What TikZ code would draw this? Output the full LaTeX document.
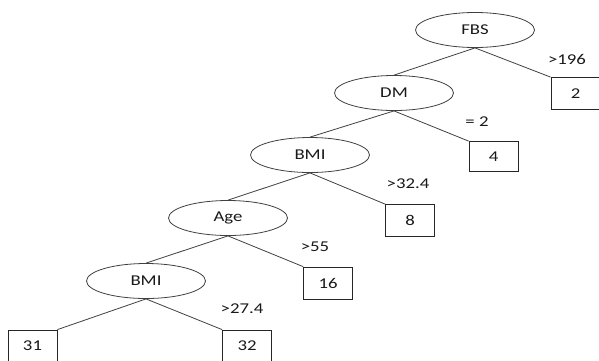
\documentclass[tikz,border=0pt]{standalone}
\usepackage{fontspec}
\setmainfont{Carlito}[FakeStretch=1.25]
\usetikzlibrary{shapes.geometric}
\tikzset{
  every node/.style={font=\fontsize{15}{18}\selectfont, text=black!90},
  split/.style={ellipse, draw=black!75, line width=0.8pt, inner sep=0pt, minimum width=119pt, minimum height=35pt},
  leaf/.style={rectangle, draw=black!85, line width=0.8pt, inner sep=0pt, minimum width=49pt, minimum height=32pt},
  edge/.style={draw=black!75, line width=0.8pt},
  cond/.style={inner sep=0pt}
}
\begin{document}
\begin{tikzpicture}[x=1pt,y=-1pt]
\useasboundingbox (0,0) rectangle (599,360);
\clip (0,0) rectangle (599,360);
% splits
\node[split] (fbs) at (475,30) {FBS};
\node[split] (dm) at (394,93) {DM};
\node[split] (bmi1) at (310,155) {BMI};
\node[split] (age) at (228,218) {Age};
\node[split] (bmi2) at (146,281) {BMI};
% leaves
\node[leaf] (l2) at (575.5,93.5) {2};
\node[leaf, minimum height=30pt] (l4) at (493.5,156.5) {4};
\node[leaf] (l8) at (410,220.5) {8};
\node[leaf] (l16) at (328,283) {16};
\node[leaf] (l31) at (32.5,346) {31};
\node[leaf] (l32) at (247,346) {32};
% edges
\path[edge] (fbs.south) -- (dm.north);
\path[edge] (fbs.south) -- (l2.north west);
\path[edge] (dm.south) -- (bmi1.north);
\path[edge] (dm.south) -- (l4.north west);
\path[edge] (bmi1.south) -- (age.north);
\path[edge] (bmi1.south) -- (l8.north west);
\path[edge] (age.south) -- (bmi2.north);
\path[edge] (age.south) -- (l16.north west);
\path[edge] (bmi2.south) -- (l31.north east);
\path[edge] (bmi2.south) -- (l32.north west);
% conditions
\node[cond] (c1) at (567,59) {>196};
\node[cond] (c2) at (477,122) {= 2};
\node[cond] (c3) at (408,184) {>32.4};
\node[cond] (c4) at (315,247) {>55};
\node[cond] (c5) at (242,309) {>27.4};
\end{tikzpicture}
\end{document}
